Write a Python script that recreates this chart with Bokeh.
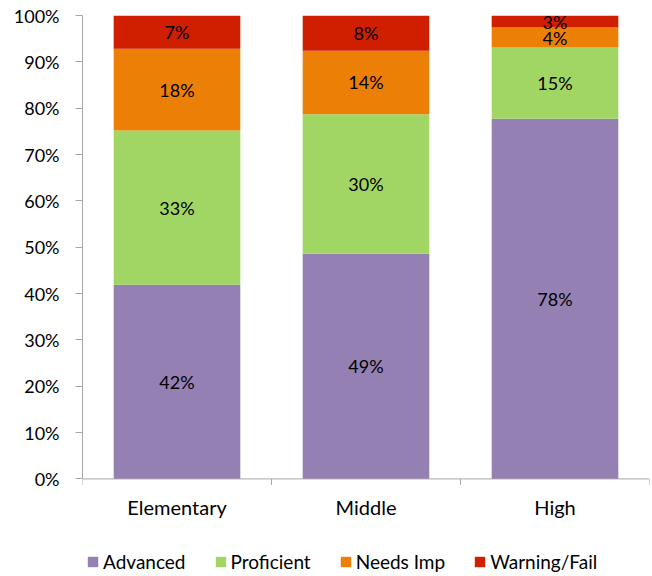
from bokeh.plotting import figure
from bokeh.models import (ColumnDataSource, Range1d, FixedTicker, PrintfTickFormatter,
                          Legend, LegendItem, Span)
from bokeh.core.properties import value
from bokeh.embed import file_html
from bokeh.resources import INLINE

categories = ["Elementary", "Middle", "High"]
series = ["Advanced", "Proficient", "Needs Imp", "Warning/Fail"]
advanced = [41.9, 48.6, 77.7]
proficient = [33.3, 30.1, 15.4]
needs_imp = [17.6, 13.7, 4.3]
warning_fail = [7.2, 7.6, 2.6]
colors = ["#9580B3", "#A1D664", "#EC7F05", "#CF1E00"]
y_ticks = [0, 10, 20, 30, 40, 50, 60, 70, 80, 90, 100]

FONT = "Lato"
AXIS_COLOR = "#A6A6A6"

# 463 px for 0..100 -> 4.63 px per unit; the extra space below 0 holds the
# category labels and the legend (97.5 px).
Y_BOTTOM = -97.5 / 4.63

xs = [i + 0.5 for i in range(len(categories))]
bounds = [float(i) for i in range(len(categories) + 1)]
data = {"x": xs, "Advanced": advanced, "Proficient": proficient,
        "Needs Imp": needs_imp, "Warning/Fail": warning_fail}
src = ColumnDataSource(data)

p = figure(output_backend="svg", toolbar_location=None,
           width=651, height=576,
           frame_width=567, frame_height=561,
           min_border_left=82, min_border_right=2, min_border_top=15, min_border_bottom=0,
           x_axis_location=None,
           x_range=Range1d(0, len(categories)), y_range=Range1d(Y_BOTTOM, 100))
p.outline_line_color = None
p.xgrid.grid_line_color = None
p.ygrid.grid_line_color = None

rs = p.vbar_stack(series, x="x", width=0.67, color=colors, line_color=None, source=src)

# data labels
vals = [advanced, proficient, needs_imp, warning_fail]
lx, ly, lt = [], [], []
for ci in range(len(categories)):
    base = 0.0
    for si in range(len(series)):
        v = vals[si][ci]
        lx.append(xs[ci])
        ly.append(base + v / 2)
        lt.append(f"{round(v)}%")
        base += v
p.text(x=lx, y=ly, text=lt, text_align="center", text_baseline="middle",
       text_font=value(FONT), text_font_size="18px", text_color="black")

# y axis
ya = p.yaxis[0]
ya.bounds = (0, 100)
ya.ticker = FixedTicker(ticks=y_ticks)
ya.formatter = PrintfTickFormatter(format="%d%%")
ya.axis_line_color = AXIS_COLOR
ya.major_tick_line_color = AXIS_COLOR
ya.major_tick_out = 7
ya.major_tick_in = 0
ya.minor_tick_line_color = None
ya.major_label_standoff = 16
ya.major_label_text_font = FONT
ya.major_label_text_font_size = "18px"
ya.major_label_text_color = "black"

# category axis (baseline, boundary ticks, labels)
p.add_layout(Span(location=0, dimension="width", line_color=AXIS_COLOR, line_width=1))
p.segment(x0=bounds, y0=[0] * len(bounds), x1=bounds, y1=[-6 / 4.63] * len(bounds),
          line_color=AXIS_COLOR, line_width=1)
p.text(x=xs, y=[-28.5 / 4.63] * len(xs), text=categories, text_align="center",
       text_baseline="middle", text_font=value(FONT), text_font_size="20px",
       text_color="black")

legend = Legend(items=[LegendItem(label=s, renderers=[r]) for s, r in zip(series, rs)],
                orientation="horizontal", location=(4, 3),
                border_line_color=None, background_fill_alpha=0,
                padding=0, margin=0, spacing=28, label_standoff=4,
                glyph_width=13, glyph_height=13,
                label_text_font=FONT, label_text_font_size="19px",
                label_text_color="black")
p.add_layout(legend)

open("out.html", "w").write(file_html(p, INLINE))
